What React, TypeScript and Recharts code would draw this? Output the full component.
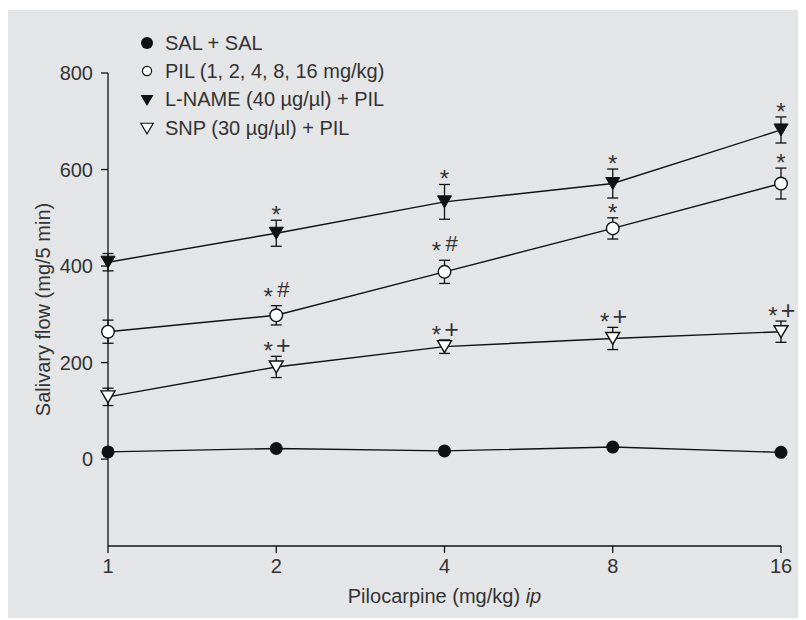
import { ErrorBar, LabelList, Legend, Line, LineChart, XAxis, YAxis } from "recharts";

const FONT = '"Liberation Sans", Arial, Helvetica, sans-serif';
const INK = "#111";
const TEXT = "#333";

// doses (mg/kg, ip) – plotted on equally spaced positions
const doses = ["1", "2", "4", "8", "16"];

const salMean = [15, 22, 17, 25, 14];
const pilMean = [264, 298, 388, 478, 571];
const pilSem = [24, 20, 24, 22, 32];
const lnameMean = [408, 468, 533, 571, 682];
const lnameSem = [18, 27, 36, 30, 27];
const snpMean = [129, 191, 233, 250, 264];
const snpSem = [18, 22, 14, 23, 22];

// significance marks shown above the error bars
const pilMarks = ["", "*#", "*#", "*", "*"];
const lnameMarks = ["", "*", "*", "*", "*"];
const snpMarks = ["", "*+", "*+", "*+", "*+"];

const yTicks = [0, 200, 400, 600, 800];

const legendItems = [
  { key: "sal", label: "SAL + SAL" },
  { key: "pil", label: "PIL (1, 2, 4, 8, 16 mg/kg)" },
  { key: "lname", label: "L-NAME (40 µg/µl) + PIL" },
  { key: "snp", label: "SNP (30 µg/µl) + PIL" },
];

const data = doses.map((dose, i) => ({
  dose,
  sal: salMean[i],
  pil: pilMean[i],
  pilErr: pilSem[i],
  pilTop: pilMean[i] + pilSem[i],
  pilMark: pilMarks[i],
  lname: lnameMean[i],
  lnameErr: lnameSem[i],
  lnameTop: lnameMean[i] + lnameSem[i],
  lnameMark: lnameMarks[i],
  snp: snpMean[i],
  snpErr: snpSem[i],
  snpTop: snpMean[i] + snpSem[i],
  snpMark: snpMarks[i],
}));

type DotProps = { cx?: number; cy?: number; index?: number };

function FilledCircle({ cx, cy, index }: DotProps) {
  if (cx == null || cy == null) return <g key={index} />;
  return <circle key={index} cx={cx} cy={cy} r={6.5} fill={INK} />;
}

function OpenCircle({ cx, cy, index }: DotProps) {
  if (cx == null || cy == null) return <g key={index} />;
  return <circle key={index} cx={cx} cy={cy} r={6.3} fill="#fff" stroke={INK} strokeWidth={1.4} />;
}

function triPath(cx: number, cy: number, w: number, h: number) {
  return `M${cx - w / 2},${cy - h / 2} L${cx + w / 2},${cy - h / 2} L${cx},${cy + h / 2} Z`;
}

function FilledTri({ cx, cy, index }: DotProps) {
  if (cx == null || cy == null) return <g key={index} />;
  return <path key={index} d={triPath(cx, cy, 14, 12)} fill={INK} stroke={INK} strokeWidth={1} />;
}

function OpenTri({ cx, cy, index }: DotProps) {
  if (cx == null || cy == null) return <g key={index} />;
  return <path key={index} d={triPath(cx, cy, 14, 12)} fill="#fff" stroke={INK} strokeWidth={1.4} />;
}

// y here is the pixel of the error bar top (hidden "top" series)
function MarkLabel(props: { x?: number; y?: number; value?: string }) {
  const { x, y, value } = props;
  if (!value || x == null || y == null) return null;
  const suffix = value.slice(1);
  const common = { fontFamily: FONT, fill: TEXT, textAnchor: "middle" as const };
  if (!suffix) {
    return (
      <text x={x} y={y + 3} fontSize={24} {...common}>
        *
      </text>
    );
  }
  const hash = suffix === "#";
  return (
    <g>
      <text x={x - 8} y={hash ? y - 1 : y + 3} fontSize={24} {...common}>
        *
      </text>
      <text x={x + 7} y={hash ? y - 9 : y - 2} fontSize={hash ? 22 : 25} {...common}>
        {suffix}
      </text>
    </g>
  );
}

function LegendIcon({ kind }: { kind: string }) {
  return (
    <svg width={16} height={16} style={{ flex: "none" }}>
      {kind === "sal" && <circle cx={8} cy={8} r={6} fill={INK} />}
      {kind === "pil" && <circle cx={8} cy={8} r={4.6} fill="#fff" stroke={INK} strokeWidth={1.2} />}
      {kind === "lname" && <path d={triPath(8, 8.5, 13, 11)} fill={INK} />}
      {kind === "snp" && <path d={triPath(8, 8.5, 12.5, 10.5)} fill="#fff" stroke={INK} strokeWidth={1.2} />}
    </svg>
  );
}

function LegendBox() {
  return (
    <div style={{ fontFamily: FONT, fontSize: 20, color: TEXT }}>
      {legendItems.map((it) => (
        <div key={it.key} style={{ display: "flex", alignItems: "center", height: 28.3, whiteSpace: "nowrap" }}>
          <LegendIcon kind={it.key} />
          <span style={{ marginLeft: 10 }}>{it.label}</span>
        </div>
      ))}
    </div>
  );
}

function XTitle(props: { viewBox?: { x: number; y: number; width: number; height: number } }) {
  const vb = props.viewBox;
  if (!vb) return null;
  return (
    <text x={vb.x + vb.width / 2} y={vb.y + 57} textAnchor="middle" fontFamily={FONT} fontSize={20} fill={TEXT}>
      Pilocarpine (mg/kg) <tspan fontStyle="italic">ip</tspan>
    </text>
  );
}

function YTitle(props: { viewBox?: { x: number; y: number; width: number; height: number } }) {
  const vb = props.viewBox;
  if (!vb) return null;
  const cx = 42;
  const cy = vb.y + vb.height / 2;
  return (
    <text
      x={cx}
      y={cy}
      transform={`rotate(-90, ${cx}, ${cy})`}
      textAnchor="middle"
      fontFamily={FONT}
      fontSize={20}
      fill={TEXT}
    >
      Salivary flow (mg/5 min)
    </text>
  );
}

const tickStyle = { fontFamily: FONT, fontSize: 20, fill: TEXT };

export default function App() {
  return (
    <div style={{ position: "relative", top: 2, width: 798, height: 610, background: "#e4e5e7" }}>
      <LineChart width={798} height={610} data={data} margin={{ top: 63, right: 25, bottom: 0, left: 0 }}>
        <XAxis
          dataKey="dose"
          interval={0}
          height={74}
          tick={tickStyle}
          tickSize={7}
          tickMargin={6}
          axisLine={{ stroke: INK, strokeWidth: 1.3 }}
          tickLine={{ stroke: INK, strokeWidth: 1.3 }}
          label={<XTitle />}
        />
        <YAxis
          type="number"
          domain={[-180, 800]}
          ticks={yTicks}
          width={100}
          tick={tickStyle}
          tickSize={7}
          tickMargin={8}
          axisLine={{ stroke: INK, strokeWidth: 1.3 }}
          tickLine={{ stroke: INK, strokeWidth: 1.3 }}
          label={<YTitle />}
        />
        <Legend
          layout="horizontal"
          verticalAlign="middle"
          align="center"
          content={<LegendBox />}
          wrapperStyle={{ left: 131, top: 19, width: 340, height: 115 }}
        />

        <Line dataKey="sal" stroke={INK} strokeWidth={1.4} dot={FilledCircle} activeDot={false} isAnimationActive={false} />

        <Line dataKey="pil" stroke={INK} strokeWidth={1.4} dot={OpenCircle} activeDot={false} isAnimationActive={false}>
          <ErrorBar dataKey="pilErr" direction="y" width={5.5} stroke={INK} strokeWidth={1.3} />
        </Line>

        <Line dataKey="lname" stroke={INK} strokeWidth={1.4} dot={FilledTri} activeDot={false} isAnimationActive={false}>
          <ErrorBar dataKey="lnameErr" direction="y" width={5.5} stroke={INK} strokeWidth={1.3} />
        </Line>

        <Line dataKey="snp" stroke={INK} strokeWidth={1.4} dot={OpenTri} activeDot={false} isAnimationActive={false}>
          <ErrorBar dataKey="snpErr" direction="y" width={5.5} stroke={INK} strokeWidth={1.3} />
        </Line>

        {/* invisible series at the error bar tops, used only to place the marks */}
        <Line dataKey="pilTop" stroke="none" dot={false} activeDot={false} legendType="none" isAnimationActive={false}>
          <LabelList dataKey="pilMark" content={<MarkLabel />} />
        </Line>
        <Line dataKey="lnameTop" stroke="none" dot={false} activeDot={false} legendType="none" isAnimationActive={false}>
          <LabelList dataKey="lnameMark" content={<MarkLabel />} />
        </Line>
        <Line dataKey="snpTop" stroke="none" dot={false} activeDot={false} legendType="none" isAnimationActive={false}>
          <LabelList dataKey="snpMark" content={<MarkLabel />} />
        </Line>
      </LineChart>
    </div>
  );
}
